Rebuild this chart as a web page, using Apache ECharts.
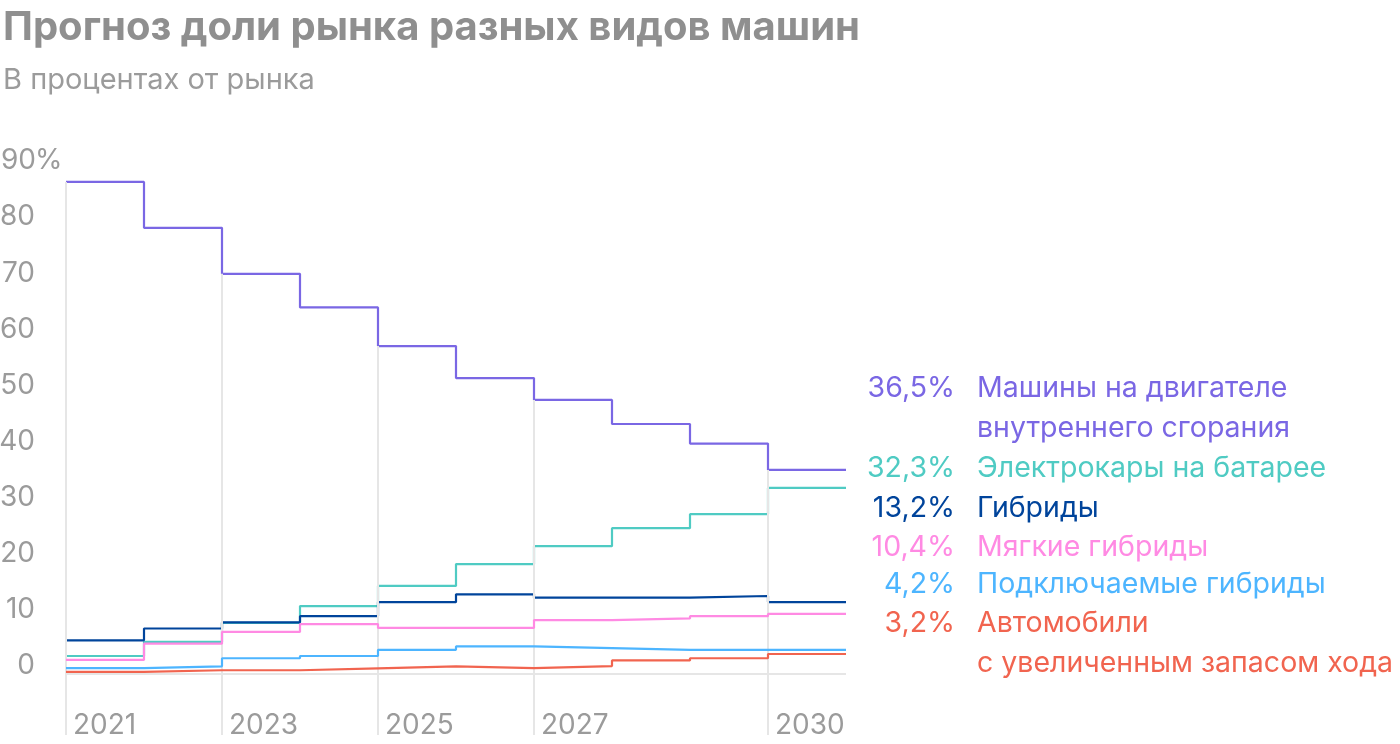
<!DOCTYPE html>
<html><head><meta charset="utf-8">
<script src="https://cdn.jsdelivr.net/npm/echarts@6/dist/echarts.min.js"></script>
<style>html,body{margin:0;padding:0;background:#fff}#c{width:1400px;height:744px}</style>
</head><body><div id="c"></div>
<script>
const years = [2021, 2022, 2023, 2024, 2025, 2026, 2027, 2028, 2029, 2030];
const seriesNames = ['Машины на двигателе\nвнутреннего сгорания', 'Электрокары на батарее', 'Гибриды', 'Мягкие гибриды', 'Подключаемые гибриды', 'Автомобили\nс увеличенным запасом хода'];
const endLabels = ['36,5%', '32,3%', '13,2%', '10,4%', '4,2%', '3,2%'];
const iceValues = [87.7, 79.5, 71.3, 65.3, 58.4, 52.7, 48.8, 44.5, 41.0, 36.3];
const bevValues = [3.1, 5.6, 9.0, 12.0, 15.6, 19.5, 22.7, 25.9, 28.4, 33.1];
const hevValues = [5.9, 8.0, 9.1, 10.2, 12.7, 14.1, 13.5, 13.5, 13.8, 12.7];
const mhevValues = [2.4, 5.3, 7.4, 8.8, 8.1, 8.1, 9.5, 9.8, 10.2, 10.6];
const phevValues = [0.95, 1.25, 2.7, 3.1, 4.2, 4.8, 4.5, 4.2, 4.2, 4.2];
const erevValues = [0.25, 0.55, 0.55, 0.9, 1.25, 0.95, 1.3, 2.3, 2.7, 3.45];
const yTicks = [0, 10, 20, 30, 40, 50, 60, 70, 80, 90];
const xTickYears = [2021, 2023, 2025, 2027, 2030];
const endYear = 2031;

const colors = ['#7a67e4', '#4fcbc3', '#00449b', '#ff8ae3', '#4db5ff', '#f1644f'];
const allValues = [iceValues, bevValues, hevValues, mhevValues, phevValues, erevValues];
const FONT = 'Inter';
const GRAY = '#9b9b9b';
const yMin = -11;

function stepData(vals) {
  const d = years.map((y, i) => [y, vals[i]]);
  d.push([endYear, vals[vals.length - 1]]);
  return d;
}

const vLines = xTickYears.map(y => {
  const i = years.indexOf(y);
  const top = i > 0 ? Math.min(iceValues[i - 1], iceValues[i]) : iceValues[0];
  return [{ coord: [y, top] }, { coord: [y, yMin] }];
});

const series = [{
  type: 'line', data: [], silent: true, z: 1,
  markLine: {
    silent: true, symbol: 'none', label: { show: false },
    lineStyle: { color: '#e6e6e6', width: 2, type: 'solid' },
    animation: false,
    data: [[{ coord: [2021, 0] }, { coord: [endYear, 0] }]].concat(vLines)
  }
}];
allValues.forEach((vals, k) => {
  series.push({
    type: 'line', name: seriesNames[k], step: 'end', data: stepData(vals),
    symbol: 'none', z: 2 + k,
    lineStyle: { color: colors[k], width: 2.2 },
    itemStyle: { color: colors[k] }
  });
});

// right-side labels
const rowY = [[388, 428], [468], [508], [547], [584], [623, 663]];
const LFONT = '28.5px ' + FONT;
const graphic = [];
seriesNames.forEach((name, k) => {
  const lines = name.split('\n');
  graphic.push({
    type: 'text', x: 955, y: rowY[k][0],
    style: { text: endLabels[k], fill: colors[k], font: LFONT, textAlign: 'right', textVerticalAlign: 'middle' }
  });
  lines.forEach((ln, j) => {
    graphic.push({
      type: 'text', x: 977, y: rowY[k][j],
      style: { text: ln, fill: colors[k], font: LFONT, textAlign: 'left', textVerticalAlign: 'middle' }
    });
  });
});

const chart = echarts.init(document.getElementById('c'), null, { renderer: 'canvas' });
chart.setOption({
  animation: false,
  backgroundColor: '#fff',
  title: {
    text: 'Прогноз доли рынка разных видов машин',
    subtext: 'В процентах от рынка',
    left: -2, top: 3, itemGap: 18,
    textStyle: { fontFamily: FONT, fontWeight: 'bold', fontSize: 40, color: '#8f8f8f' },
    subtextStyle: { fontFamily: FONT, fontSize: 29, color: '#9b9b9b' }
  },
  grid: { left: 66, right: 554, top: 169, bottom: 9, containLabel: false, outerBoundsMode: 'none' },
  xAxis: {
    type: 'value', min: 2021, max: endYear,
    axisLine: { show: false }, axisTick: { show: false }, splitLine: { show: false },
    axisLabel: {
      customValues: xTickYears, inside: true, margin: 0,
      align: 'left', verticalAlign: 'bottom', padding: [0, 0, 0, 7], lineHeight: 18,
      color: GRAY, fontSize: 28, fontFamily: FONT,
      formatter: v => String(v)
    }
  },
  yAxis: {
    type: 'value', min: yMin, max: 90,
    axisLine: { show: false }, axisTick: { show: false }, splitLine: { show: false },
    axisLabel: {
      customValues: yTicks, align: 'left', margin: 64, verticalAlign: 'bottom',
      formatter: v => v === 90 ? '{n|' + v + '}{p|%}' : '{n|' + v + '}',
      rich: {
        n: { width: 33, align: 'right', color: GRAY, fontSize: 28, fontFamily: FONT, lineHeight: 16 },
        p: { color: GRAY, fontSize: 28, fontFamily: FONT, lineHeight: 16 }
      }
    }
  },
  series: series,
  graphic: graphic
});
</script></body></html>
